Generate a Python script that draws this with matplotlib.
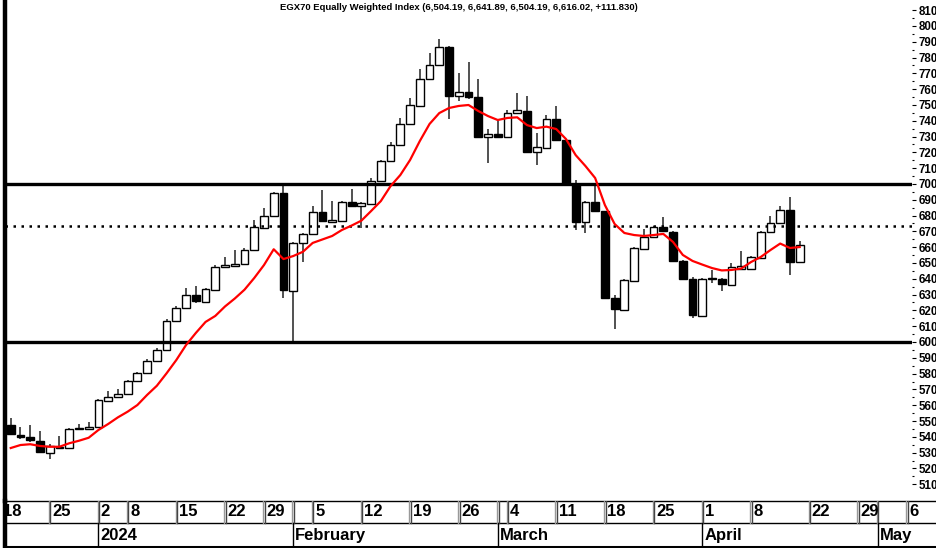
import matplotlib
matplotlib.use("Agg")
import matplotlib.pyplot as plt
from matplotlib.ticker import FixedLocator

plt.rcParams['font.family'] = ['Liberation Sans', 'DejaVu Sans']

# daily candles, trading-day index starting at 1
first_idx = 1
opens = [5475, 5411, 5399, 5375, 5295, 5329, 5329, 5449, 5450, 5462,
         5628, 5652, 5671, 5753, 5804, 5880, 5949, 6133, 6215, 6297,
         6253, 6329, 6475, 6481, 6494, 6582, 6722, 6798, 6943, 6323,
         6627, 6684, 6821, 6760, 6768, 6888, 6861, 6873, 7019, 7146,
         7247, 7380, 7496, 7665, 7753, 7869, 7557, 7584, 7553, 7296,
         7315, 7296, 7452, 7464, 7205, 7228, 7412, 7279, 7000, 6761,
         6884, 6827, 6280, 6203, 6388, 6590, 6667, 6726, 6698, 6513,
         6399, 6167, 6396, 6399, 6361, 6460, 6462, 6534, 6696, 6753,
         6836, 6504]
highs = [5519, 5462, 5475, 5435, 5354, 5405, 5456, 5481, 5494, 5640,
         5690, 5702, 5760, 5810, 5892, 5962, 6146, 6228, 6342, 6354,
         6340, 6488, 6540, 6582, 6595, 6772, 6848, 6950, 7006, 6632,
         6690, 6861, 6962, 6894, 6895, 6966, 6885, 7038, 7152, 7266,
         7418, 7544, 7728, 7831, 7918, 7874, 7703, 7771, 7662, 7347,
         7400, 7468, 7574, 7557, 7325, 7437, 7494, 7285, 7025, 6895,
         7000, 6832, 6298, 6398, 6600, 6715, 6735, 6793, 6705, 6520,
         6413, 6405, 6456, 6402, 6500, 6576, 6546, 6705, 6797, 6861,
         6918, 6642]
lows = [5410, 5386, 5369, 5297, 5259, 5323, 5325, 5445, 5445, 5455,
        5622, 5648, 5665, 5750, 5800, 5875, 5943, 6128, 6210, 6247,
        6250, 6325, 6470, 6478, 6490, 6578, 6715, 6795, 6278, 6002,
        6508, 6680, 6760, 6755, 6762, 6858, 6722, 6868, 7012, 7140,
        7240, 7375, 7490, 7660, 7748, 7410, 7528, 7538, 7290, 7131,
        7291, 7290, 7448, 7200, 7120, 7222, 7272, 7000, 6709, 6688,
        6822, 6270, 6082, 6196, 6382, 6585, 6660, 6695, 6510, 6390,
        6150, 6160, 6373, 6323, 6355, 6456, 6456, 6530, 6690, 6748,
        6424, 6504]
closes = [5418, 5399, 5382, 5302, 5342, 5337, 5449, 5458, 5465, 5633,
          5650, 5671, 5753, 5804, 5880, 5949, 6133, 6215, 6297, 6259,
          6335, 6475, 6485, 6494, 6582, 6728, 6798, 6943, 6329, 6627,
          6684, 6823, 6766, 6772, 6888, 6863, 6880, 7019, 7146, 7247,
          7380, 7500, 7665, 7753, 7869, 7557, 7584, 7553, 7296, 7315,
          7300, 7452, 7469, 7205, 7233, 7410, 7279, 7008, 6761, 6888,
          6827, 6277, 6209, 6392, 6593, 6667, 6726, 6701, 6515, 6397,
          6171, 6399, 6402, 6365, 6477, 6481, 6540, 6698, 6755, 6836,
          6508, 6616]
# red average line
avg_line = [5329, 5348, 5353, 5342, 5337, 5337, 5359, 5375, 5394, 5443,
            5481, 5523, 5559, 5601, 5665, 5723, 5802, 5886, 5981, 6057,
            6127, 6165, 6225, 6275, 6331, 6405, 6487, 6587, 6525, 6544,
            6571, 6627, 6649, 6671, 6709, 6737, 6768, 6829, 6892, 6987,
            7057, 7152, 7272, 7380, 7449, 7481, 7494, 7500, 7462, 7430,
            7405, 7418, 7422, 7373, 7354, 7363, 7348, 7285, 7183, 7114,
            7038, 6867, 6747, 6690, 6677, 6671, 6677, 6684, 6633, 6551,
            6513, 6490, 6468, 6453, 6456, 6465, 6506, 6538, 6582, 6623,
            6595, 6601]

level_lines = [7000, 6000]
dotted_level = 6735
price_ticks = list(range(5100, 8101, 100))

week_pos = [0, 5, 10, 13, 18, 23, 27, 32, 37, 42, 47, 52, 57, 62, 67, 72, 77, 83, 88, 93]
week_labels = ["18", "25", "2", "8", "15", "22", "29", "5", "12", "19", "26",
               "4", "11", "18", "25", "1", "8", "22", "29", "6"]
month_pos = [10, 30, 51, 72, 90]
month_labels = ["2024", "February", "March", "April", "May"]

title = "EGX70 Equally Weighted Index (6,504.19, 6,641.89, 6,504.19, 6,616.02, +111.830)"

W, H = 937, 548


def px_box(x0, y0, x1, y1):
    return [x0 / W, 1 - y1 / H, (x1 - x0) / W, (y1 - y0) / H]


def px_to_idx(x):
    return (x - 1) / 9.74


fig = plt.figure(figsize=(W / 100, H / 100), dpi=100)
ax = fig.add_axes(px_box(5, 0, 912, 501))

xs = list(range(first_idx, first_idx + len(opens)))

# wicks
ax.vlines(xs, lows, highs, color="#222222", linewidth=1.1, zorder=2)

# bodies
bottoms = [min(o, c) for o, c in zip(opens, closes)]
heights = [max(abs(c - o), 6) for o, c in zip(opens, closes)]
colors = ["white" if c >= o else "black" for o, c in zip(opens, closes)]
ax.bar(xs, heights, bottom=bottoms, width=0.8, color=colors,
       edgecolor="black", linewidth=1.0, zorder=3)

for lvl in level_lines:
    ax.axhline(lvl, color="black", linewidth=2.4, zorder=4)
ax.axhline(dotted_level, color="black", linewidth=1.8,
           linestyle=(0, (1, 2.2)), zorder=4)

ax.plot(xs, avg_line, color="#ff0000", linewidth=1.6, zorder=5)

ax.set_xlim(px_to_idx(5), px_to_idx(912))
ax.set_ylim(6000 - 159 * 6.329, 6000 + 342 * 6.329)

ax.yaxis.tick_right()
ax.yaxis.set_major_locator(FixedLocator(price_ticks))
ax.yaxis.set_minor_locator(FixedLocator([p + 50 for p in price_ticks[:-1]]))
ax.tick_params(axis="y", which="major", length=3, width=0.8, pad=2,
               labelsize=8.3, direction="out")
ax.tick_params(axis="y", which="minor", length=1.5, width=0.8, direction="out")
for lab in ax.get_yticklabels():
    lab.set_fontweight("bold")
ax.set_xticks([])
for side in ["top", "right", "bottom"]:
    ax.spines[side].set_visible(False)
ax.spines["left"].set_linewidth(3.2)

fig.text(459 / W, 1 - 7 / H, title, ha="center", va="center",
         fontsize=6.8, fontweight="bold")

# date panel below the chart
dax = fig.add_axes(px_box(5, 501, 937, 548))
dax.set_xlim(px_to_idx(5), px_to_idx(937))
dax.set_ylim(0, 1)
dax.axis("off")
mid = (548 - 523) / 47
low = (548 - 546.5) / 47
dax.axhline(1, color="black", linewidth=1.0, clip_on=False)
dax.axhline(mid, color="black", linewidth=1.0)
dax.axhline(low, color="black", linewidth=2.2)
dax.plot([px_to_idx(5)] * 2, [0, 1], color="black", linewidth=3.2,
         clip_on=False)

for p in sorted(set(week_pos + month_pos)):
    dax.plot([p - 0.08, p - 0.08], [mid, 1], color="#999999", linewidth=1.0)
    dax.plot([p + 0.08, p + 0.08], [mid, 1], color="#444444", linewidth=1.0)
for p, lab in zip(week_pos, week_labels):
    dax.text(p + 0.25, (1 + mid) / 2, lab, ha="left", va="center",
             fontsize=12, fontweight="bold")
for p, lab in zip(month_pos, month_labels):
    dax.plot([p, p], [low, mid], color="black", linewidth=1.0)
    dax.text(p + 0.22, (mid + low) / 2 - 0.02, lab, ha="left", va="center",
             fontsize=12, fontweight="bold")

fig.savefig("out.png", dpi=100)
